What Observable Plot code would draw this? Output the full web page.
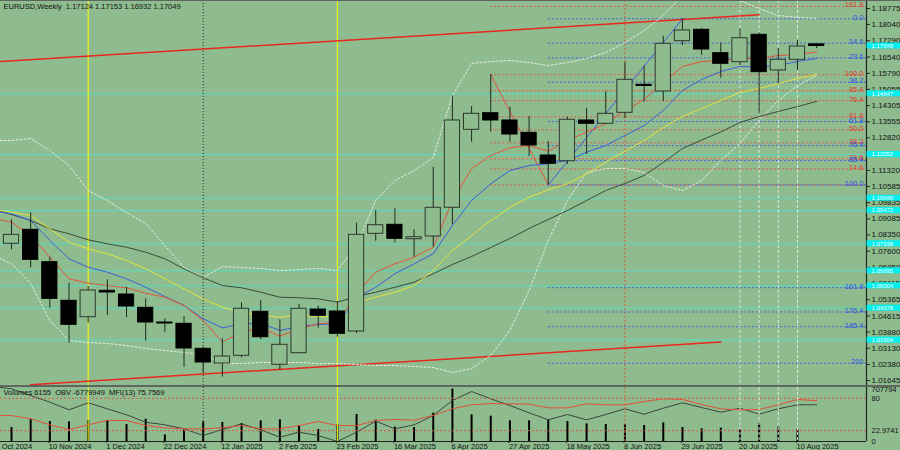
<!DOCTYPE html>
<html><head><meta charset="utf-8">
<script src="https://cdn.jsdelivr.net/npm/d3@7"></script>
<script src="https://cdn.jsdelivr.net/npm/@observablehq/plot@0.6"></script>
<style>
html,body{margin:0;padding:0;background:#8FBC8F;}
#wrap{position:relative;width:900px;height:450px;overflow:hidden;background:#8FBC8F;font-family:"Liberation Sans",Arial,sans-serif;}
#wrap svg{position:absolute;left:0;}
.sep{position:absolute;left:0;width:900px;background:#5f665f;}
</style></head>
<body><div id="wrap"></div>
<script>
// ---------------- DATA ----------------
const symbolTitle = "EURUSD,Weekly  1.17124 1.17153 1.16932 1.17049";
const indTitle = "Volumes 6155  OBV -6779949  MFI(13) 75.7569";
// weekly bars, bar 0 = 27 Oct 2024 ... bar 42 = 17 Aug 2025
const open  = [1.07940,1.08585,1.07093,1.05315,1.04560,1.05776,1.05605,1.04993,1.04316,1.04256,1.03105,1.02428,1.02782,1.04809,1.02368,1.02902,1.04915,1.04822,1.03902,1.08400,1.08815,1.08152,1.08276,1.09600,1.13189,1.13954,1.13618,1.13051,1.12006,1.11743,1.13618,1.13466,1.13972,1.15262,1.14953,1.17269,1.17794,1.16717,1.16302,1.17564,1.15920,1.16412,1.17124];
const high  = [1.09045,1.09367,1.07323,1.06126,1.05974,1.06282,1.05941,1.05407,1.04486,1.04592,1.03179,1.03565,1.05223,1.05329,1.04440,1.05145,1.05067,1.05283,1.08889,1.09473,1.09551,1.08585,1.11467,1.14737,1.14262,1.15730,1.14230,1.13802,1.12651,1.13770,1.14184,1.14950,1.16302,1.16127,1.17499,1.18300,1.17840,1.17177,1.17840,1.17656,1.16947,1.17302,1.17153];
const low   = [1.07664,1.06835,1.04974,1.03363,1.04284,1.04638,1.04532,1.03455,1.03869,1.02258,1.01981,1.01797,1.02690,1.03519,1.02138,1.02875,1.04054,1.03639,1.03805,1.08060,1.07986,1.07323,1.07783,1.08810,1.12618,1.13079,1.12618,1.11960,1.10650,1.11600,1.12052,1.13430,1.13710,1.14460,1.14493,1.17071,1.16611,1.15565,1.16150,1.13940,1.15308,1.15920,1.16932];
const close = [1.08354,1.07203,1.05407,1.04210,1.05789,1.05697,1.05053,1.04316,1.04270,1.03119,1.02474,1.02750,1.04947,1.03639,1.03289,1.04947,1.04625,1.03796,1.08354,1.08796,1.08170,1.08244,1.09598,1.13618,1.13926,1.13618,1.12973,1.12466,1.11624,1.13650,1.13466,1.13926,1.15492,1.15206,1.17150,1.17762,1.16887,1.16229,1.17407,1.15842,1.16412,1.17025,1.17049];
const volume = [198000,309000,278000,273000,295000,291000,238000,309000,101000,163000,273000,265000,251000,287000,300000,225000,172000,234000,370000,295000,203000,198000,388000,707794,366000,348000,287000,287000,295000,278000,247000,238000,238000,225000,260000,198000,181000,190000,172000,256000,203000,176000,6155];
// indicator / MA series start at bar -1 (20 Oct 2024)
const seriesStart = -1;
const maRed    = [1.09123,1.08935,1.08322,1.07323,1.06328,1.06126,1.06020,1.05914,1.05665,1.05481,1.05099,1.04408,1.03409,1.03869,1.04072,1.03685,1.04026,1.04256,1.04330,1.05638,1.06632,1.07019,1.07323,1.07783,1.09934,1.11394,1.12006,1.12361,1.12466,1.12204,1.12697,1.13079,1.13466,1.14078,1.14585,1.15368,1.16104,1.16335,1.16381,1.16473,1.16473,1.16611,1.16657,1.16772];
const maBlue   = [1.09450,1.09321,1.09013,1.08092,1.07249,1.06862,1.06632,1.06328,1.05941,1.05513,1.05099,1.04486,1.04072,1.04256,1.04284,1.03948,1.04132,1.04224,1.04256,1.05453,1.05941,1.06559,1.07019,1.07479,1.08783,1.09934,1.10703,1.11315,1.11546,1.11624,1.11776,1.12158,1.12466,1.12927,1.13387,1.14078,1.14999,1.15506,1.15874,1.16104,1.16081,1.16150,1.16335,1.16473];
const maYellow = [1.09528,1.09395,1.09243,1.08631,1.08014,1.07710,1.07479,1.07171,1.06789,1.06328,1.05868,1.05407,1.05021,1.04790,1.04638,1.04560,1.04638,1.04592,1.04560,1.05251,1.05481,1.05711,1.06020,1.06710,1.07631,1.08322,1.09013,1.09612,1.10086,1.10427,1.10703,1.11163,1.11697,1.12204,1.12697,1.13295,1.13802,1.14170,1.14539,1.14907,1.15091,1.15321,1.15552,1.15736];
const maGray   = [1.09565,1.09289,1.09013,1.08631,1.08400,1.08124,1.07940,1.07783,1.07553,1.07249,1.06789,1.06374,1.06020,1.05914,1.05711,1.05481,1.05453,1.05407,1.05251,1.05513,1.05711,1.05941,1.06172,1.06559,1.06987,1.07355,1.07770,1.08184,1.08645,1.09059,1.09473,1.09934,1.10394,1.10717,1.11085,1.11684,1.12328,1.12720,1.13088,1.13526,1.13802,1.14032,1.14262,1.14493];
const bbUpper  = [1.12700,1.12697,1.12789,1.12236,1.11545,1.10394,1.09934,1.09381,1.08875,1.07862,1.06848,1.06388,1.06894,1.06848,1.06802,1.06710,1.06756,1.06802,1.06710,1.07862,1.09934,1.10855,1.11315,1.11914,1.14769,1.16242,1.16335,1.16381,1.16288,1.16150,1.16288,1.16473,1.16749,1.17209,1.17762,1.18453,1.19374,1.19512,1.19374,1.19143,1.18775,1.18453,1.18361,1.18315];
const bbLower  = [1.07401,1.07033,1.06112,1.04408,1.03487,1.03395,1.03349,1.03257,1.03119,1.03027,1.02935,1.02843,1.02428,1.02428,1.02474,1.02474,1.02474,1.02428,1.02428,1.02382,1.02336,1.02336,1.02290,1.02244,1.02014,1.02198,1.02797,1.03948,1.05789,1.08092,1.09934,1.11223,1.11407,1.11407,1.11223,1.10625,1.10394,1.10855,1.11776,1.12559,1.13618,1.14539,1.15229,1.15690];
const mfi = [48.1,48.1,42.0,30.9,22.2,30.9,38.9,38.9,29.6,25.3,23.5,23.5,25.3,29.6,23.5,23.5,29.6,37.0,29.6,29.6,38.9,40.7,39.5,48.1,60.5,67.9,70.4,69.8,69.1,62.3,62.3,69.8,67.9,67.9,74.1,79.0,77.8,68.5,60.5,58.6,59.3,67.9,77.8,75.7569];
const obv = [-4950000,-5180000,-5850000,-6520000,-7280000,-6580000,-7180000,-7780000,-8520000,-8780000,-9180000,-9850000,-9250000,-8680000,-9280000,-10020000,-9520000,-9850000,-10450000,-9520000,-8420000,-9180000,-8780000,-7850000,-6350000,-5450000,-6180000,-6850000,-7580000,-8280000,-7750000,-8280000,-7750000,-7180000,-7720000,-7120000,-6580000,-7050000,-7520000,-7120000,-7720000,-7180000,-6780000,-6779949];
// price axis labels (1.12070 sits under a cyan line box)
const priceTicks = [1.18775,1.18040,1.17290,1.16540,1.15790,1.15055,1.14305,1.13555,1.12820,1.11320,1.10585,1.09835,1.09085,1.08350,1.07600,1.06850,1.06115,1.05365,1.04615,1.03880,1.03130,1.02380,1.01645];
// date labels (bar index -> text)
const dateTickBars = [-1,2,5,8,11,14,17,20,23,26,29,32,35,38,41];
const dateTickText = ["20 Oct 2024","10 Nov 2024","1 Dec 2024","22 Dec 2024","12 Jan 2025","2 Feb 2025","23 Feb 2025","16 Mar 2025","6 Apr 2025","27 Apr 2025","18 May 2025","8 Jun 2025","29 Jun 2025","20 Jul 2025","10 Aug 2025"];
// horizontal support/resistance lines (cyan)
const cyanLevels = [1.14847,1.12052,1.10040,1.09472,1.07938,1.06695,1.06004,1.04978,1.03504];
const lastPrice = 1.17049;
// Fibonacci retracement (red: 1.1065 -> 1.1573 from bar 25; blue: 1.1830 -> 1.1065 from bar 28)
const redFibStart = 25;
const redFibLabels = ["0.0","14.6","23.6","38.2","50.0","61.8","76.4","85.4","100.0","161.8"];
const redFibPrices = [1.1065,1.1139,1.1185,1.1259,1.1319,1.1379,1.1453,1.1499,1.1573,1.1887];
const blueFibStart = 28;
const blueFibLabels = ["0.0","14.6","23.6","38.2","61.8","76.4","85.4","100.0","161.8","176.4","185.4","200"];
const blueFibPrices = [1.1830,1.1718,1.1650,1.1538,1.1357,1.1246,1.1177,1.1065,1.0592,1.0480,1.0412,1.0244];
const redDiagBars = [25,28], redDiagPrices = [1.1573,1.1065];
const blueDiagBars = [28,35], blueDiagPrices = [1.1065,1.1830];
// channel trendlines
const upperChBars = [-0.574,39.0], upperChPrices = [1.16335,1.18485];
const lowerChBars = [1.0,37.0],    lowerChPrices = [1.01447,1.03413];
// vertical lines
const vYellow = [4,17], vDark = [10], vRed = [32], vWhite = [38,39,40,41];
// indicator right-scale labels
const indLabelVals = [97,80,20.5,0];
const indLabelText = ["707794","80","22.9741","0"];

// ---------------- LAYOUT ----------------
const BG = "#8FBC8F";
const BAR_PX = 19.17, BAR0_PX = 11, PLOT_R = 866, W = 900;
const xDom = [-BAR0_PX / BAR_PX, (PLOT_R - BAR0_PX) / BAR_PX];
const gutter = (W - PLOT_R) / BAR_PX;
const half = 7.6 / BAR_PX;
const PX_PER_PRICE = 0.00046048;
const yTop = 1.191434, mainH = 386;
const yDom = [yTop - mainH * PX_PER_PRICE, yTop];
const FONT = "Liberation Sans, Arial, sans-serif";

const bars = open.map((o, i) => ({i, o, h: high[i], l: low[i], c: close[i], up: close[i] >= open[i]}));
const ser = arr => arr.map((v, k) => ({i: seriesStart + k, v}));
const pts = (bs, ps) => bs.map((b, k) => ({i: b, v: ps[k]}));
const fibRows = (labels, prices, start) => labels.map((t, k) => ({t, p: prices[k], s: start}));
const redFib = fibRows(redFibLabels, redFibPrices, redFibStart);
const blueFib = fibRows(blueFibLabels, blueFibPrices, blueFibStart);

const verticalMarks = () => [
  Plot.ruleX(vWhite, {stroke: "#e6efe0", strokeWidth: 1, strokeDasharray: "3,2", strokeOpacity: 0.9}),
  Plot.ruleX(vRed, {stroke: "#d8603e", strokeWidth: 1, strokeDasharray: "2,2"}),
  Plot.ruleX(vDark, {stroke: "#2a2f2a", strokeWidth: 1, strokeDasharray: "1,2"}),
  Plot.ruleX(vYellow, {stroke: "#ffff00", strokeWidth: 1})
];

const wrap = document.getElementById("wrap");

// ---------------- MAIN PRICE PANEL ----------------
const main = Plot.plot({
  width: W, height: mainH, marginLeft: 0, marginRight: W - PLOT_R, marginTop: 0, marginBottom: 0,
  style: {background: "transparent", fontFamily: FONT, color: "#111"},
  x: {type: "linear", domain: xDom, axis: null},
  y: {type: "linear", domain: yDom, axis: null},
  marks: [
    Plot.ruleY(cyanLevels, {stroke: "#48e2d2", strokeWidth: 1, strokeOpacity: 0.8}),
    ...verticalMarks(),
    Plot.ruleY(redFib, {y: "p", x1: "s", x2: () => xDom[1], stroke: "#e05a4a", strokeDasharray: "2,2", strokeWidth: 1}),
    Plot.ruleY(blueFib, {y: "p", x1: "s", x2: () => xDom[1], stroke: "#3f5fe0", strokeDasharray: "2,2", strokeWidth: 1}),
    Plot.line(pts(upperChBars, upperChPrices), {x: "i", y: "v", stroke: "#e8281c", strokeWidth: 1.5}),
    Plot.line(pts(lowerChBars, lowerChPrices), {x: "i", y: "v", stroke: "#e8281c", strokeWidth: 1.5}),
    Plot.line(pts(redDiagBars, redDiagPrices), {x: "i", y: "v", stroke: "#e05040", strokeWidth: 1}),
    Plot.line(pts(blueDiagBars, blueDiagPrices), {x: "i", y: "v", stroke: "#3f5fe0", strokeWidth: 1}),
    Plot.line(ser(bbUpper), {x: "i", y: "v", stroke: "#e4ece0", strokeWidth: 1, strokeDasharray: "2,2"}),
    Plot.line(ser(bbLower), {x: "i", y: "v", stroke: "#e4ece0", strokeWidth: 1, strokeDasharray: "2,2"}),
    Plot.line(ser(maGray), {x: "i", y: "v", stroke: "#3c4a3a", strokeWidth: 1}),
    Plot.line(ser(maYellow), {x: "i", y: "v", stroke: "#e6e23a", strokeWidth: 1}),
    Plot.line(ser(maBlue), {x: "i", y: "v", stroke: "#3a5ed8", strokeWidth: 1}),
    Plot.line(ser(maRed), {x: "i", y: "v", stroke: "#e0553c", strokeWidth: 1}),
    Plot.ruleX(bars, {x: "i", y1: "l", y2: "h", stroke: "#1f291f", strokeWidth: 1}),
    Plot.rect(bars, {x1: d => d.i - half, x2: d => d.i + half, y1: "o", y2: "c",
      fill: d => d.up ? BG : "#000", stroke: d => d.up ? "#2c382c" : "#000", strokeWidth: 1}),
    Plot.text(redFib.filter(d => d.t !== "0.0"), {x: () => xDom[1], y: "p", text: "t", textAnchor: "end", lineAnchor: "bottom", dx: -3, dy: 1, fill: "#e03a30", fontSize: 7.5}),
    Plot.text(blueFib, {x: () => xDom[1], y: "p", text: "t", textAnchor: "end", lineAnchor: "bottom", dx: -3, dy: 1, fill: "#3050e0", fontSize: 7.5}),
    Plot.ruleX([xDom[1]], {stroke: "#1e231e", strokeWidth: 1.2}),
    Plot.axisY(priceTicks, {anchor: "right", tickSize: 3, tickPadding: 2, tickFormat: d3.format(".5f"), fontSize: 8, label: null, stroke: "#1e231e", fill: "#111"}),
    Plot.rect(cyanLevels.concat([lastPrice]), {x1: () => xDom[1] + 0.03, x2: () => xDom[1] + gutter, y1: d => d - 3 * PX_PER_PRICE, y2: d => d + 3 * PX_PER_PRICE, fill: "#00f0f0"}),
    Plot.text(cyanLevels.concat([lastPrice]), {x: () => xDom[1], y: d => d, text: d => d3.format(".5f")(d), dx: 5, textAnchor: "start", fill: "#f4ffff", fontSize: 6}),
    Plot.text([symbolTitle], {frameAnchor: "top-left", dx: 3, dy: 3, fontSize: 7.5, fill: "#111", text: d => d})
  ]
});
main.style.top = "0px";
wrap.appendChild(main);

// ---------------- INDICATOR PANEL ----------------
const indTop = 386, indH = 64;
const volPlot = Plot.plot({
  width: W, height: indH, marginLeft: 0, marginRight: W - PLOT_R, marginTop: 2.5, marginBottom: 8,
  style: {background: "transparent"},
  x: {type: "linear", domain: xDom, axis: null},
  y: {domain: [0, 707794], axis: null},
  marks: [
    Plot.ruleX(bars, {x: "i", y1: 0, y2: d => volume[d.i], stroke: "#000", strokeWidth: 2})
  ]
});
const obvPlot = Plot.plot({
  width: W, height: indH, marginLeft: 0, marginRight: W - PLOT_R, marginTop: 2, marginBottom: 9,
  style: {background: "transparent"},
  x: {type: "linear", domain: xDom, axis: null},
  y: {domain: [-10450000, -5150000], axis: null},
  marks: [
    Plot.line(ser(obv), {x: "i", y: "v", stroke: "#3c463c", strokeWidth: 1})
  ]
});
const mfiPlot = Plot.plot({
  width: W, height: indH, marginLeft: 0, marginRight: W - PLOT_R, marginTop: 1, marginBottom: 9,
  style: {background: "transparent", fontFamily: FONT, color: "#111"},
  x: {type: "linear", domain: xDom, axis: null},
  y: {domain: [0, 100], axis: null},
  marks: [
    Plot.ruleY([80, 20], {stroke: "#d8584a", strokeDasharray: "2,2", strokeWidth: 1}),
    Plot.line(ser(mfi), {x: "i", y: "v", stroke: "#e0503a", strokeWidth: 1}),
    ...verticalMarks(),
    Plot.ruleY([0], {stroke: "#1e231e", strokeWidth: 1}),
    Plot.ruleX([xDom[1]], {stroke: "#1e231e", strokeWidth: 1.2}),
    Plot.text(indLabelVals, {x: () => xDom[1], y: d => d, text: (d, k) => indLabelText[k], dx: 5, textAnchor: "start", fill: "#111", fontSize: 7.5}),
    Plot.axisX(dateTickBars, {anchor: "bottom", tickSize: 2, tickPadding: 0, fontSize: 7.5, textAnchor: "start", dx: -1,
      tickFormat: d => dateTickText[dateTickBars.indexOf(d)], label: null, stroke: "#1e231e", fill: "#111"}),
    Plot.text([indTitle], {frameAnchor: "top-left", dx: 3, dy: 2, fontSize: 7.5, fill: "#111", text: d => d})
  ]
});
[volPlot, obvPlot, mfiPlot].forEach(p => { p.style.top = indTop + "px"; wrap.appendChild(p); });

// panel borders
const addSep = (top, h) => { const s = document.createElement("div"); s.className = "sep"; s.style.top = top + "px"; s.style.height = h + "px"; wrap.appendChild(s); };
addSep(0, 1);
addSep(385, 2);
</script>
</body></html>
